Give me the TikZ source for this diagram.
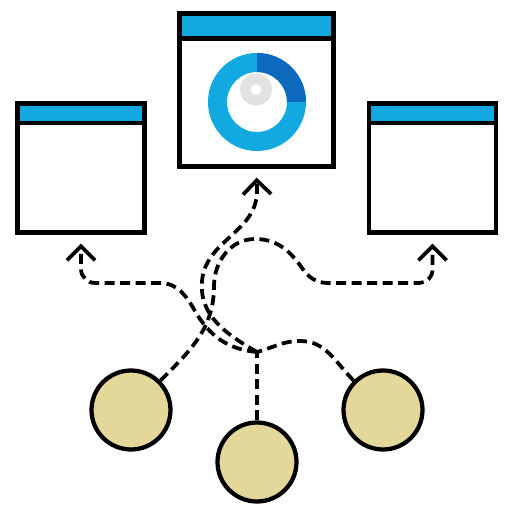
\documentclass[tikz,border=0pt]{standalone}
\usepackage{tikz}
\usetikzlibrary{positioning, arrows.meta}
\definecolor{barblue}{HTML}{12A9E1}
\definecolor{darkblue}{HTML}{0D69BE}
\definecolor{ringgray}{HTML}{E2E2E2}
\definecolor{nodetan}{HTML}{E3D799}

\begin{document}
\begin{tikzpicture}[x=0.2mm, y=0.2mm, line width=0.85mm,
    win/.style={draw, fill=white, minimum width=25.4mm, minimum height=25.8mm,
        path picture={\fill[barblue] (path picture bounding box.north west) rectangle ([yshift=-#1]path picture bounding box.north east);
                      \draw ([yshift=-#1]path picture bounding box.north west) -- ([yshift=-#1]path picture bounding box.north east);}},
    win/.default=3.9mm,
    src/.style={draw, circle, fill=nodetan, minimum size=15.8mm, inner sep=0pt},
    link/.style={line width=0.75mm, dash pattern=on 2mm off 1.1mm},
    flow/.style={link, -{Straight Barb[length=2.8mm, width=5.6mm]}, shorten >=1.8mm}]
    \useasboundingbox (0,0) rectangle (518,526);

    % ventanas
    \node[win] (lwin) at (81,358) {};
    \node[win=5mm, minimum width=30.8mm, minimum height=30.6mm] (mwin) at (256.5,436) {};
    \node[win] (rwin) at (432.5,358) {};

    % grafico de anillo
    \coordinate (donut) at (257,424);
    \fill[barblue, even odd rule] (donut) circle[radius=9.8mm] circle[radius=6mm];
    \fill[darkblue] ([yshift=9.8mm]donut) arc[start angle=90, end angle=0, radius=9.8mm]
        -- ([xshift=6mm]donut) arc[start angle=0, end angle=90, radius=6mm] -- cycle;
    \fill[ringgray, even odd rule] (256,436.5) circle[radius=3.2mm] circle[radius=1.1mm];

    % fuentes
    \node[src] (lc) at (131,116) {};
    \node[src] (mc) at (257,64) {};
    \node[src] (rc) at (383,116) {};
    \coordinate (hub) at (257,174);

    \draw[link] (mc) -- (hub);
    \draw[link] (rc.135) to[out=135,in=0] (300,185) to[out=180,in=15] (hub);
    \draw[flow] (hub) to[out=150,in=-95] (202,245) to[out=85,in=-90] (257,335) -- (mwin.south);
    \draw[flow] (hub) to[out=175,in=-60] (195,215) to[out=120,in=0] (160,243) -- (95,243)
        to[out=180,in=-90] (81,257) -- (lwin.south);
    \draw[flow] (lc.45) to[out=45,in=-90] (214,240) to[out=90,in=180] (255,287) to[out=0,in=125] (302,258)
        to[out=-55,in=180] (328,243) -- (419,243) to[out=0,in=-90] (432.5,256) -- (rwin.south);
\end{tikzpicture}
\end{document}
